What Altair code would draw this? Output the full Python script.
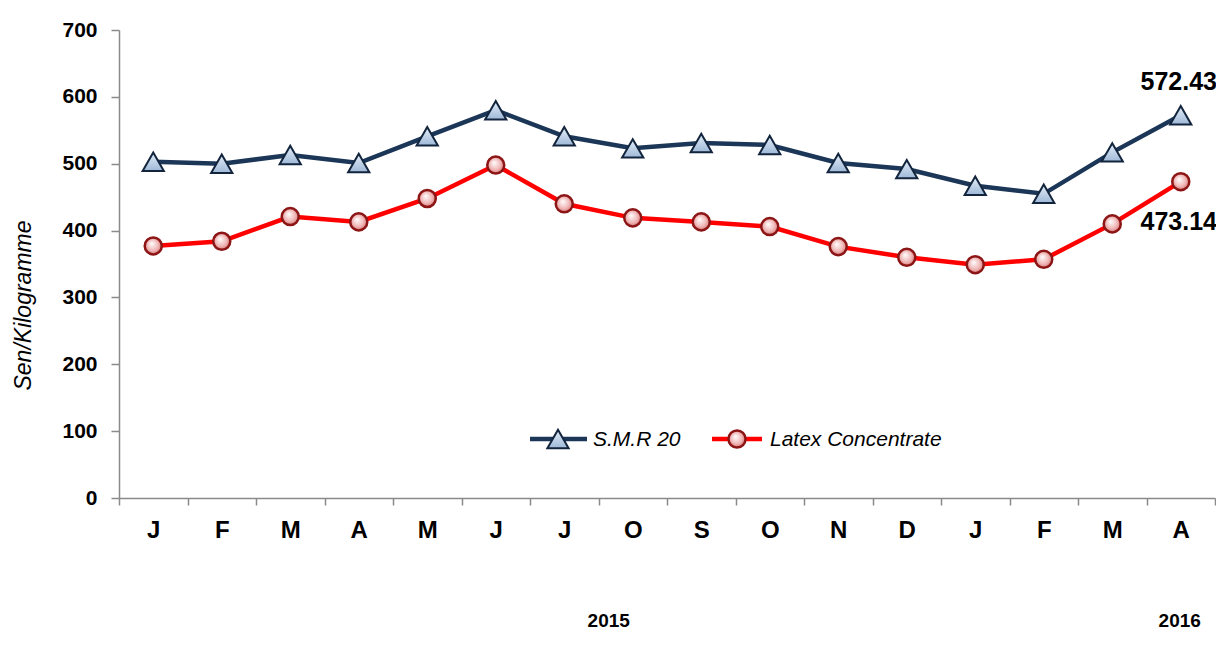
import json
import altair as alt
import pandas as pd

# ---------------- data ----------------
months = ["Jan 2015", "Feb 2015", "Mar 2015", "Apr 2015", "May 2015", "Jun 2015",
          "Jul 2015", "Aug 2015", "Sep 2015", "Oct 2015", "Nov 2015", "Dec 2015",
          "Jan 2016", "Feb 2016", "Mar 2016", "Apr 2016"]
month_labels = ["J", "F", "M", "A", "M", "J", "J", "O", "S", "O", "N", "D", "J", "F", "M", "A"]
smr20 = [503, 500, 513, 501, 541, 580, 541, 523, 531, 528, 501, 492, 467, 455, 517, 572.43]
latex = [377, 384, 421, 413, 448, 498, 440, 419, 413, 406, 376, 360, 349, 357, 410, 473.14]
series = ["S.M.R 20", "Latex Concentrate"]
years = ["2015", "2016"]
year_anchor = ["Aug 2015", "Apr 2016"]

rows = []
for m, v in zip(months, smr20):
    rows.append({"month": m, "series": series[0], "value": v})
for m, v in zip(months, latex):
    rows.append({"month": m, "series": series[1], "value": v})
df = pd.DataFrame(rows)
years_df = pd.DataFrame({"month": year_anchor, "year": years})

FONT = "Liberation Sans"
NAVY = "#1b3657"
RED = "#ff0000"

label_expr = f"{json.dumps(month_labels)}[indexof({json.dumps(months)}, datum.value)]"

x_enc = alt.X(
    "month:N",
    sort=months,
    scale=alt.Scale(type="band", domain=months, paddingInner=0, paddingOuter=0),
    axis=alt.Axis(title=None, labelExpr=label_expr, tickBand="extent", labelAngle=0,
                  labelFontSize=24, labelFontWeight="bold", labelColor="black",
                  tickSize=7, labelPadding=13),
)
y_enc = alt.Y(
    "value:Q",
    scale=alt.Scale(domain=[0, 700], nice=False),
    axis=alt.Axis(values=list(range(0, 701, 100)), title="Sen/Kilogramme",
                  titleFontStyle="italic", titleFontWeight="normal", titleFontSize=23,
                  titleColor="black", titleX=-96, titleY=275, titleBaseline="middle",
                  titleAlign="center", labelFontSize=21, labelFontWeight="bold",
                  labelColor="black", tickSize=8, labelPadding=14),
)

base = alt.Chart(df)

lines = base.mark_line(strokeWidth=4.5).encode(
    x=x_enc, y=y_enc,
    stroke=alt.Stroke("series:N", scale=alt.Scale(domain=series, range=[NAVY, RED]), legend=None),
)

tri_fill = alt.LinearGradient(
    gradient="linear",
    stops=[alt.GradientStop(color="#e3edf8", offset=0), alt.GradientStop(color="#9fb9d8", offset=1)],
    x1=0, x2=0, y1=0, y2=1,
)
circ_fill = alt.RadialGradient(
    gradient="radial",
    stops=[alt.GradientStop(color="#ffffff", offset=0), alt.GradientStop(color="#f0b8b8", offset=0.6),
           alt.GradientStop(color="#d46a6a", offset=1)],
    x1=0.4, y1=0.35, r1=0, x2=0.5, y2=0.5, r2=0.55,
)

marker_style = {
    series[0]: dict(shape="triangle-up", size=450, fill=tri_fill, stroke="#13253d", strokeWidth=2),
    series[1]: dict(shape="circle", size=290, fill=circ_fill, stroke="#8c1515", strokeWidth=2.5),
}
line_colors = {series[0]: NAVY, series[1]: RED}

pts_layers = []
for s in series:
    pts_layers.append(
        base.transform_filter(alt.datum.series == s).mark_point(
            filled=True, opacity=1, **marker_style[s]
        ).encode(x=x_enc, y=y_enc)
    )

# ---- legend (drawn inside the plot, like the original) ----
legend_pos = {  # line start, line end, marker centre, label start (plot pixels)
    series[0]: (411, 468, 439, 474),
    series[1]: (593, 643, 618, 651),
}
LEG_Y = 409
legend_layers = []
for s in series:
    x0, x1, cx, lx = legend_pos[s]
    ldf = alt.Chart(pd.DataFrame({"series": [s]}))
    legend_layers.append(
        ldf.mark_rule(strokeWidth=4.5, color=line_colors[s]).encode(
            x=alt.value(x0), x2=alt.value(x1), y=alt.value(LEG_Y))
    )
    legend_layers.append(
        ldf.mark_point(filled=True, opacity=1, **marker_style[s]).encode(
            x=alt.value(cx), y=alt.value(LEG_Y))
    )
    legend_layers.append(
        ldf.mark_text(align="left", baseline="middle", fontSize=21, fontStyle="italic",
                      color="black").encode(
            x=alt.value(lx), y=alt.value(LEG_Y + 1), text="series:N")
    )

last_smr = base.transform_filter(
    (alt.datum.series == series[0]) & (alt.datum.month == months[-1])
).mark_text(fontSize=25, fontWeight="bold", color="black", dy=-25, dx=-2,
            baseline="alphabetic", align="center").encode(
    x=x_enc, y=y_enc, text=alt.Text("value:Q", format=".2f"))

last_latex = base.transform_filter(
    (alt.datum.series == series[1]) & (alt.datum.month == months[-1])
).mark_text(fontSize=25, fontWeight="bold", color="black", dy=48, dx=-2,
            baseline="alphabetic", align="center").encode(
    x=x_enc, y=y_enc, text=alt.Text("value:Q", format=".2f"))

year_base = alt.Chart(years_df)
year1 = year_base.transform_filter(alt.datum.year == years[0]).mark_text(
    fontSize=19, fontWeight="bold", color="black", dx=-24, baseline="alphabetic",
    align="center").encode(x=x_enc, y=alt.value(597), text="year:N")
year2 = year_base.transform_filter(alt.datum.year == years[1]).mark_text(
    fontSize=19, fontWeight="bold", color="black", dx=-1, baseline="alphabetic",
    align="center").encode(x=x_enc, y=alt.value(597), text="year:N")

chart = alt.layer(
    lines, *pts_layers, *legend_layers, last_smr, last_latex, year1, year2
).properties(
    width=1096, height=468,
    autosize=alt.AutoSizeParams(type="none"),
    padding={"left": 111, "top": 22, "right": 1, "bottom": 134},
).configure(
    font=FONT,
).configure_view(
    strokeWidth=0,
).configure_axis(
    grid=False, domainColor="#8a8a8a", tickColor="#8a8a8a", domainWidth=1.5, tickWidth=1.5,
    labelFont=FONT, titleFont=FONT,
)

chart.save("out.html", embed_options={"renderer": "svg", "actions": False})
